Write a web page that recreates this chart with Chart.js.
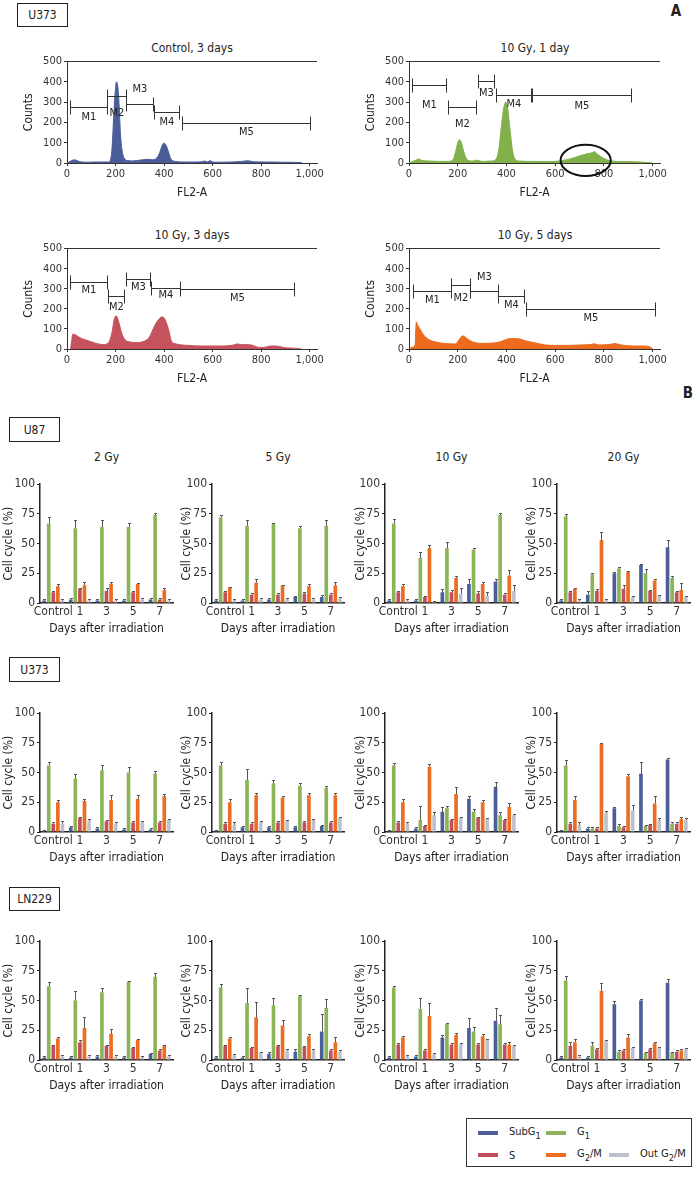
<!DOCTYPE html>
<html>
<head>
<meta charset="utf-8">
<script src="https://cdn.jsdelivr.net/npm/chart.js@4.4.1/dist/chart.umd.min.js"></script>
<style>
  body { margin: 0; width: 697px; height: 1181px; position: relative; overflow: hidden; background: #fff;
         font-family: "Liberation Sans Narrow", "Arial Narrow", "DejaVu Sans Condensed", Roboto, sans-serif; color: #222; }
  .box { position: absolute; border: 1.5px solid #222; box-sizing: border-box; font-size: 12px;
         display: flex; align-items: center; justify-content: center; }
  .t { position: absolute; transform: translate(-50%, -50%); white-space: nowrap; font-size: 12px; }
  .big { font-weight: bold; font-size: 15px; }
  .sw { position: absolute; width: 20px; height: 4px; }
  .lg { position: absolute; font-size: 11px; transform: translateY(-50%); white-space: nowrap; }
  canvas { position: absolute; }
</style>
</head>
<body>
<div class="box" style="left:17px;top:3px;width:51px;height:24px">U373</div>
<div class="t big" style="left:676px;top:11px">A</div>
<div class="t" style="left:192px;top:48px">Control, 3 days</div>
<div class="t" style="left:535px;top:48px">10 Gy, 1 day</div>
<div class="t" style="left:192px;top:235px">10 Gy, 3 days</div>
<div class="t" style="left:535px;top:235px">10 Gy, 5 days</div>

<div class="t big" style="left:688px;top:393px">B</div>
<div class="box" style="left:9px;top:417px;width:51px;height:25px">U87</div>
<div class="box" style="left:9px;top:657px;width:51px;height:25px">U373</div>
<div class="box" style="left:9px;top:887px;width:51px;height:24px">LN229</div>

<div id="legend" style="position:absolute;left:466px;top:1118px;width:226px;height:49px;border:1px solid #333;box-sizing:border-box"></div>

<script>
// ---- panel A: FL2-A histograms ----
const fl2Ticks = [0, 200, 400, 600, 800, 1000];
const countTicks = [0, 100, 200, 300, 400, 500];

const ctrl3dX = [0, 10, 20, 30, 45, 60, 90, 120, 150, 170, 180, 186, 192, 198, 204, 210, 215, 220, 226, 235, 250, 270, 300, 330, 355, 370, 380, 390, 398, 408, 418, 428, 445, 480, 520, 555, 565, 580, 590, 600, 620, 680, 720, 745, 770, 820, 880, 940, 960, 970];
const ctrl3dY = [0, 6, 12, 16, 10, 5, 4, 5, 5, 5, 20, 80, 220, 340, 400, 370, 280, 150, 70, 25, 12, 10, 14, 18, 16, 25, 45, 80, 98, 88, 55, 20, 8, 5, 5, 6, 10, 5, 12, 5, 4, 5, 8, 11, 6, 5, 4, 3, 2, 0];

const gy10d1X = [0, 10, 25, 40, 55, 80, 120, 160, 180, 190, 200, 208, 215, 225, 240, 260, 280, 300, 340, 360, 370, 380, 390, 398, 405, 415, 425, 435, 450, 500, 560, 620, 660, 700, 730, 750, 760, 775, 800, 830, 880, 950, 1000];
const gy10d1Y = [0, 5, 12, 20, 12, 10, 8, 8, 15, 50, 100, 115, 100, 55, 15, 10, 14, 8, 10, 25, 80, 190, 280, 300, 270, 160, 60, 20, 10, 8, 7, 10, 20, 35, 45, 50, 56, 42, 22, 10, 7, 5, 0];

const gy10d3X = [15, 18, 25, 35, 60, 90, 120, 150, 170, 185, 195, 203, 212, 225, 240, 260, 290, 320, 340, 355, 370, 380, 390, 400, 410, 420, 430, 450, 500, 560, 620, 680, 700, 720, 760, 790, 810, 840, 870, 890, 920, 950, 965];
const gy10d3Y = [0, 30, 75, 70, 52, 40, 28, 22, 30, 80, 150, 165, 140, 80, 45, 35, 32, 40, 60, 100, 135, 150, 160, 155, 130, 90, 40, 25, 18, 15, 15, 18, 25, 22, 20, 8, 8, 15, 14, 8, 5, 3, 0];

const gy10d5X = [5, 15, 25, 30, 35, 45, 60, 80, 110, 150, 190, 205, 215, 225, 235, 250, 270, 300, 350, 380, 400, 420, 440, 460, 480, 520, 560, 600, 650, 700, 745, 760, 780, 820, 845, 870, 920, 960, 990, 1000];
const gy10d5Y = [5, 10, 20, 135, 120, 100, 70, 48, 35, 27, 25, 45, 62, 65, 55, 42, 32, 28, 30, 38, 48, 52, 52, 48, 40, 30, 20, 18, 18, 20, 22, 26, 20, 22, 27, 20, 15, 15, 10, 0];

// marker gates M1..M5: [from, to, counts level]
const ctrl3dGates = [[14, 164, 275], [164, 244, 328], [244, 356, 289], [359, 460, 252], [473, 1000, 198]];
const gy10d1Gates = [[14, 151, 387], [161, 275, 275], [282, 347, 402], [356, 502, 333], [505, 910, 333]];
const gy10d3Gates = [[14, 166, 332], [169, 235, 266], [242, 342, 349], [346, 467, 304], [467, 935, 299]];
const gy10d5Gates = [[17, 171, 291], [171, 250, 321], [250, 367, 291], [367, 470, 263], [480, 1010, 201]];
// circled region on 10 Gy, 1 day: [centre FL2-A, centre counts, half width, half height]
const gy10d1Ring = [725, 13, 103, 77];

// ---- panel B: cell cycle distribution (%) ----
const days = ['Control', '1', '3', '5', '7'];
const phases = ['SubG1', 'G1', 'S', 'G2/M', 'Out G2/M'];
const phaseColors = ['#4b5e98', '#8ab456', '#c24f5c', '#ec6c21', '#bcc1cb'];

// rows: SubG1, G1, S, G2/M, Out G2/M
const u87_2Gy = [[2, 3, 2, 2, 3], [67, 63, 64, 64, 74], [9, 12, 10, 9, 3], [14, 15, 16, 16, 11], [2, 2, 2, 3, 2]];
const u87_2GyErr = [[1, 1, 1, 1, 1], [5, 7, 6, 3, 2], [1, 1, 3, 1, 1], [2, 3, 2, 1, 2], [1, 1, 1, 1, 1]];
const u87_5Gy = [[2, 2, 3, 5, 5], [72, 65, 67, 63, 65], [9, 7, 7, 8, 7], [13, 17, 15, 14, 15], [2, 3, 3, 3, 4]];
const u87_5GyErr = [[1, 1, 1, 1, 2], [2, 5, 0.5, 2, 5], [1, 1, 1, 1, 1], [0.5, 3, 0.5, 2, 3], [1, 1, 1, 1, 1]];
const u87_10Gy = [[2, 2, 9, 16, 18], [67, 38, 46, 45, 74], [9, 5, 9, 8, 7], [14, 46, 21, 16, 23], [2, 1, 8, 6, 10]];
const u87_10GyErr = [[1, 1, 3, 4, 2], [4, 5, 5, 1, 2], [1, 1, 2, 2, 1], [2, 3, 2, 2, 5], [1, 1, 5, 3, 5]];
const u87_20Gy = [[2, 7, 25, 32, 47], [73, 24, 29, 25, 21], [9, 10, 12, 10, 9], [12, 53, 26, 19, 11], [2, 2, 5, 6, 5]];
const u87_20GyErr = [[1, 3, 1, 1, 6], [2, 1, 1, 4, 2], [1, 2, 3, 1, 1], [0.5, 7, 1, 1, 6], [1, 1, 1, 1, 1]];

const u373_2Gy = [[1, 4, 3, 2, 2], [56, 45, 52, 50, 49], [7, 12, 9, 8, 8], [25, 26, 27, 28, 30], [7, 9, 7, 8, 10]];
const u373_2GyErr = [[1, 1, 1, 1, 1], [3, 4, 4, 5, 2], [1, 1, 1, 1, 1], [2, 2, 4, 3, 2], [2, 2, 1, 1, 1]];
const u373_5Gy = [[1, 4, 4, 4, 5], [56, 44, 41, 39, 37], [7, 7, 8, 8, 8], [25, 31, 29, 31, 31], [6, 8, 9, 10, 12]];
const u373_5GyErr = [[1, 1, 1, 1, 1], [3, 9, 3, 2, 2], [1, 1, 1, 1, 1], [3, 2, 1, 2, 2], [2, 1, 1, 1, 1]];
const u373_10Gy = [[1, 3, 17, 28, 38], [56, 10, 20, 17, 14], [8, 5, 10, 12, 10], [25, 55, 32, 25, 21], [7, 14, 12, 11, 14]];
const u373_10GyErr = [[0.5, 1, 4, 2, 4], [2, 12, 2, 2, 3], [1, 1, 1, 1, 1], [3, 2, 6, 2, 3], [1, 3, 1, 1, 1]];
const u373_20Gy = [[1, 3, 20, 49, 61], [56, 3, 5, 5, 7], [7, 3, 4, 6, 7], [27, 74, 47, 24, 11], [6, 16, 18, 10, 10]];
const u373_20GyErr = [[0.5, 1, 1, 10, 1], [5, 1, 2, 1, 1], [1, 1, 1, 1, 1], [3, 0.5, 2, 6, 2], [2, 2, 5, 2, 2]];

const ln229_2Gy = [[2, 2, 3, 2, 5], [62, 50, 57, 66, 70], [12, 15, 12, 10, 8], [18, 27, 22, 17, 12], [3, 3, 3, 2, 3]];
const ln229_2GyErr = [[1, 1, 1, 1, 1], [4, 8, 4, 0.5, 3], [1, 2, 1, 1, 1], [1, 9, 4, 1, 1], [1, 1, 1, 1, 1]];
const ln229_5Gy = [[2, 2, 5, 7, 24], [61, 48, 46, 54, 44], [12, 10, 12, 11, 8], [18, 36, 29, 20, 15], [4, 6, 8, 8, 7]];
const ln229_5GyErr = [[1, 1, 2, 2, 15], [3, 13, 6, 1, 7], [1, 1, 1, 1, 1], [1, 13, 5, 2, 4], [1, 1, 1, 1, 1]];
const ln229_10Gy = [[2, 3, 19, 27, 33], [61, 43, 30, 24, 30], [13, 8, 13, 13, 13], [19, 37, 21, 20, 13], [3, 5, 13, 17, 12]];
const ln229_10GyErr = [[1, 1, 2, 8, 11], [1, 9, 1, 4, 8], [1, 1, 1, 1, 1], [1, 11, 2, 2, 2], [1, 1, 1, 1, 1]];
const ln229_20Gy = [[2, 2, 47, 50, 65], [67, 12, 7, 6, 6], [12, 9, 8, 9, 7], [15, 58, 19, 14, 8], [3, 16, 10, 10, 9]];
const ln229_20GyErr = [[1, 1, 3, 1, 3], [4, 3, 1, 1, 1], [3, 1, 1, 1, 1], [3, 7, 3, 1, 1], [1, 1, 1, 1, 1]];

const doses = ['2 Gy', '5 Gy', '10 Gy', '20 Gy'];

// ---------------------------------------------------------------
const FONT = '"Liberation Sans Narrow", "Arial Narrow", "DejaVu Sans Condensed", Roboto, sans-serif';
Chart.defaults.font.family = FONT;
Chart.defaults.color = '#333';
Chart.defaults.animation = false;
Chart.defaults.plugins.legend.display = false;
Chart.defaults.plugins.tooltip.enabled = false;

function makeCanvas(left, top, w, h) {
  const c = document.createElement('canvas');
  c.width = w; c.height = h;
  c.style.left = left + 'px'; c.style.top = top + 'px';
  c.style.width = w + 'px'; c.style.height = h + 'px';
  document.body.appendChild(c);
  return c;
}

function label(text, x, y, size) {
  const d = document.createElement('div');
  d.className = 't';
  d.style.left = x + 'px'; d.style.top = y + 'px';
  if (size) d.style.fontSize = size + 'px';
  d.textContent = text;
  document.body.appendChild(d);
}

function histogram(plot, xs, ys, color, gates, labelDy, ring) {
  const [L, T, R, B] = plot;
  const yw = 45, xh = 37, padT = 8, padR = 12;
  const cv = makeCanvas(L - yw, T - padT, R - L + yw + padR, B - T + padT + xh);

  const overlay = {
    id: 'gates',
    afterDatasetsDraw(chart) {
      const {ctx, scales: {x, y}} = chart;
      ctx.save();
      ctx.strokeStyle = '#333';
      ctx.lineWidth = 1;
      ctx.fillStyle = '#222';
      ctx.font = '11px ' + FONT;
      ctx.textAlign = 'center';
      ctx.textBaseline = 'middle';
      gates.forEach((g, i) => {
        const x1 = Math.round(x.getPixelForValue(g[0])) + 0.5;
        const x2 = Math.round(x.getPixelForValue(g[1])) + 0.5;
        const yy = Math.round(y.getPixelForValue(g[2])) + 0.5;
        ctx.beginPath();
        ctx.moveTo(x1, yy); ctx.lineTo(x2, yy);
        ctx.moveTo(x1, yy - 7); ctx.lineTo(x1, yy + 7);
        ctx.moveTo(x2, yy - 7); ctx.lineTo(x2, yy + 7);
        ctx.stroke();
        ctx.fillText('M' + (i + 1), (x1 + x2) / 2, yy + labelDy[i]);
      });
      if (ring) {
        const cx = x.getPixelForValue(ring[0]), cy = y.getPixelForValue(ring[1]);
        const rx = x.getPixelForValue(ring[0] + ring[2]) - cx;
        const ry = cy - y.getPixelForValue(ring[1] + ring[3]);
        ctx.strokeStyle = '#111';
        ctx.lineWidth = 2;
        ctx.beginPath();
        ctx.ellipse(cx, cy, rx, ry, 0, 0, Math.PI * 2);
        ctx.stroke();
      }
      ctx.restore();
    }
  };

  new Chart(cv, {
    type: 'line',
    data: {
      datasets: [{
        data: xs.map((v, i) => ({x: v, y: ys[i]})),
        fill: 'origin',
        backgroundColor: color,
        borderColor: color,
        borderWidth: 1,
        pointRadius: 0,
        cubicInterpolationMode: 'monotone'
      }]
    },
    options: {
      responsive: false,
      layout: {padding: {top: padT, right: padR, left: 0, bottom: 0}},
      scales: {
        x: {
          type: 'linear', min: 0, max: 1030,
          afterFit: s => { s.height = xh; },
          afterBuildTicks: s => { s.ticks = fl2Ticks.map(v => ({value: v})); },
          ticks: {autoSkip: false, maxRotation: 0, padding: 2,
                  font: {size: 11}, callback: v => v.toLocaleString('en-US')},
          grid: {drawOnChartArea: false, tickLength: 3, color: '#333'},
          border: {color: '#333'},
          title: {display: true, text: 'FL2-A', font: {size: 12}, padding: 0, color: '#222'}
        },
        y: {
          min: 0, max: 500,
          afterFit: s => { s.width = yw; },
          afterBuildTicks: s => { s.ticks = countTicks.map(v => ({value: v})); },
          ticks: {padding: 2, font: {size: 11}},
          grid: {color: c => (c.tick && c.tick.value === 500) ? '#333' : 'rgba(0,0,0,0)', tickColor: '#333', tickLength: 3},
          border: {color: '#333'},
          title: {display: true, text: 'Counts', font: {size: 12}, padding: 0, color: '#222'}
        }
      }
    },
    plugins: [overlay]
  });
}

const errorBars = {
  id: 'errorBars',
  afterDatasetsDraw(chart) {
    const {ctx, scales: {y}} = chart;
    ctx.save();
    ctx.strokeStyle = '#555';
    ctx.lineWidth = 1;
    chart.data.datasets.forEach((ds, i) => {
      chart.getDatasetMeta(i).data.forEach((bar, j) => {
        const top = Math.round(y.getPixelForValue(ds.data[j] + ds.errors[j])) + 0.5;
        const x = Math.round(bar.x) + 0.5;
        ctx.beginPath();
        ctx.moveTo(x, bar.y); ctx.lineTo(x, top);
        ctx.moveTo(x - 1.5, top); ctx.lineTo(x + 1.5, top);
        ctx.stroke();
      });
    });
    ctx.restore();
  }
};

function cellCycle(plot, titleX, vals, errs) {
  const [L, T, R, B] = plot;
  const yw = L - titleX + 8, xh = 33, padT = 8, padR = 4;
  const cv = makeCanvas(L - yw, T - padT, R - L + yw + padR, B - T + padT + xh);
  new Chart(cv, {
    type: 'bar',
    data: {
      labels: days,
      datasets: phases.map((p, i) => ({
        label: p,
        data: vals[i],
        errors: errs[i],
        backgroundColor: phaseColors[i],
        categoryPercentage: 0.86,
        barPercentage: 0.8
      }))
    },
    options: {
      responsive: false,
      layout: {padding: {top: padT, right: padR, left: 0, bottom: 0}},
      scales: {
        x: {
          afterFit: s => { s.height = xh; },
          ticks: {autoSkip: false, maxRotation: 0, padding: 2, font: {size: 12}},
          grid: {drawOnChartArea: false, drawTicks: false},
          border: {color: '#222', width: 1.5},
          title: {display: true, text: 'Days after irradiation', font: {size: 12}, padding: 0, color: '#222'}
        },
        y: {
          min: 0, max: 100,
          afterFit: s => { s.width = yw; },
          ticks: {stepSize: 25, padding: 2, font: {size: 12}},
          grid: {drawOnChartArea: false, tickLength: 3, color: '#222'},
          border: {color: '#222', width: 1.5},
          title: {display: true, text: 'Cell cycle (%)', font: {size: 12}, padding: 0, color: '#222'}
        }
      }
    },
    plugins: [errorBars]
  });
}

// panel A layout
histogram([67, 61, 317, 163], ctrl3dX, ctrl3dY, '#4a5d99', ctrl3dGates, [10, 17, -15, 10, 9]);
histogram([409, 61, 660, 163], gy10d1X, gy10d1Y, '#82b14c', gy10d1Gates, [20, 17, 12, 9, 11], gy10d1Ring);
histogram([67, 248, 317, 349], gy10d3X, gy10d3Y, '#c6525e', gy10d3Gates, [8, 11, 8, 7, 9]);
histogram([409, 248, 660, 349], gy10d5X, gy10d5Y, '#ec6b1e', gy10d5Gates, [9, 13, -14, 9, 9]);

// panel B layout
const colAxis = [40, 212, 385, 557];
const colRight = [173, 344, 518, 690];
const colTitle = [10, 188, 362, 533];
const rowTop = [483, 712, 940];
const rowBottom = [603, 832, 1060];
const grid = [
  [[u87_2Gy, u87_2GyErr], [u87_5Gy, u87_5GyErr], [u87_10Gy, u87_10GyErr], [u87_20Gy, u87_20GyErr]],
  [[u373_2Gy, u373_2GyErr], [u373_5Gy, u373_5GyErr], [u373_10Gy, u373_10GyErr], [u373_20Gy, u373_20GyErr]],
  [[ln229_2Gy, ln229_2GyErr], [ln229_5Gy, ln229_5GyErr], [ln229_10Gy, ln229_10GyErr], [ln229_20Gy, ln229_20GyErr]]
];
grid.forEach((row, r) => row.forEach((cell, c) => {
  cellCycle([colAxis[c], rowTop[r], colRight[c], rowBottom[r]], colTitle[c], cell[0], cell[1]);
}));
doses.forEach((d, c) => label(d, (colAxis[c] + colRight[c]) / 2, 457));

// legend
const legendNames = ['SubG<sub>1</sub>', 'G<sub>1</sub>', 'S', 'G<sub>2</sub>/M', 'Out G<sub>2</sub>/M'];
const legendSpots = [[11, 14], [79, 14], [11, 36], [79, 36], [142, 36]];
const lg = document.getElementById('legend');
legendNames.forEach((n, i) => {
  const [lx, ly] = legendSpots[i];
  const sw = document.createElement('div');
  sw.className = 'sw';
  sw.style.left = lx + 'px'; sw.style.top = (ly - 2) + 'px';
  sw.style.background = phaseColors[i];
  lg.appendChild(sw);
  const tx = document.createElement('div');
  tx.className = 'lg';
  tx.style.left = (lx + 31) + 'px'; tx.style.top = ly + 'px';
  tx.innerHTML = n;
  lg.appendChild(tx);
});
</script>
</body>
</html>
